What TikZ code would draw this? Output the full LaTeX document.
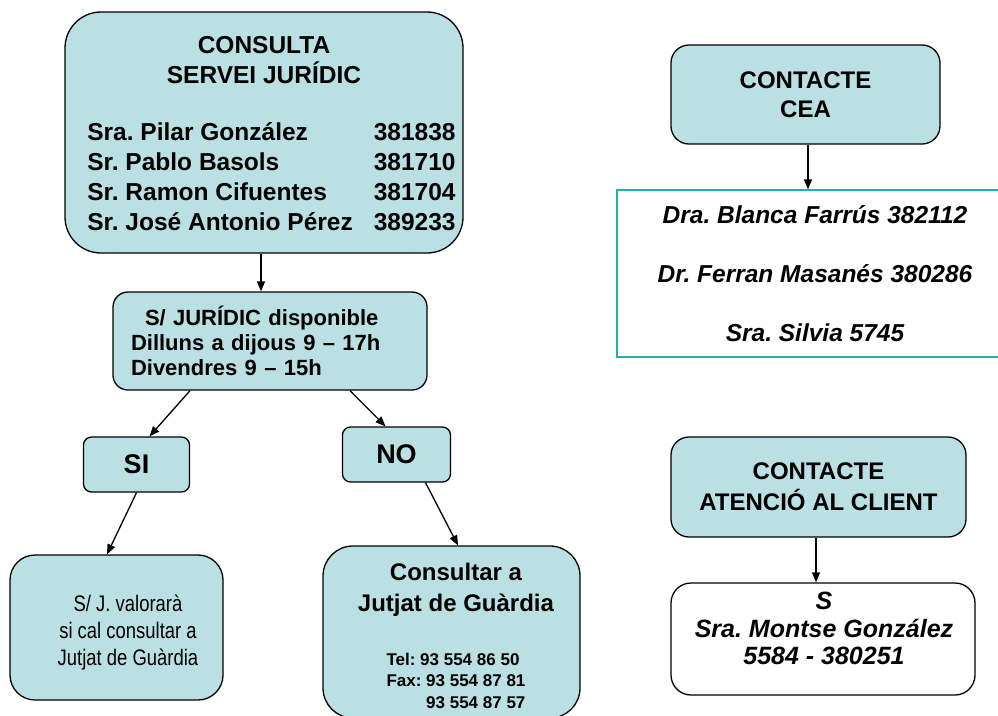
\documentclass[tikz,border=0pt]{standalone}
\usepackage{fontspec}
\setmainfont{Liberation Sans}
\newfontfamily\narrowsans[FakeStretch=0.82]{Liberation Sans}
\usetikzlibrary{arrows.meta, positioning}
\definecolor{boxblue}{RGB}{186,224,227}
\definecolor{ceateal}{RGB}{30,178,170}
\frenchspacing
\tikzset{>={Triangle[length=10pt,width=8pt]}}
\tikzset{
  bluebox/.style={draw=black, line width=1.3pt, fill=boxblue, inner sep=0pt, align=center},
  whitebox/.style={draw=black, line width=1.3pt, fill=white, inner sep=0pt, align=center},
  headtext/.style={font=\bfseries\fontsize{24}{29}\selectfont},
  flow/.style={->, line width=1.3pt},
}

\begin{document}
\begin{tikzpicture}[x=1pt, y=-1pt]
    \useasboundingbox (0,0) rectangle (998,715);
    % servei juridic branch
    \node[bluebox, font=\bfseries\fontsize{24.5}{30}\selectfont, minimum width=398pt, minimum height=241pt, rounded corners=36pt] (consulta) at (264,132.5)
        {\rule{0pt}{28pt}CONSULTA\\SERVEI JURÍDIC\\[27pt]\hspace*{15pt}\begin{tabular}[t]{@{}l@{\hspace{21pt}}r@{}}
        Sra. Pilar González & 381838\\
        Sr. Pablo Basols & 381710\\
        Sr. Ramon Cifuentes & 381704\\
        Sr. José Antonio Pérez & 389233
        \end{tabular}};
    \node[bluebox, font=\bfseries\fontsize{22}{25}\selectfont, align=left, text width=278pt, minimum width=314pt, minimum height=98pt, rounded corners=15pt] (juridic) at (270,341)
        {\hspace{14pt}S/ JURÍDIC disponible\\Dilluns a dijous 9 – 17h\\Divendres 9 – 15h};
    \node[bluebox, font=\bfseries\fontsize{27}{30}\selectfont, minimum width=106pt, minimum height=55pt, rounded corners=8pt] (si) at (136.5,464.5) {SI};
    \node[bluebox, font=\bfseries\fontsize{27}{30}\selectfont, minimum width=108pt, minimum height=55pt, rounded corners=8pt] (no) at (396.5,454.5) {NO};
    \node[bluebox, minimum width=213pt, minimum height=145pt, rounded corners=25pt] (valora) at (116.5,627.5) {};
    \node[font=\narrowsans\fontsize{22.5}{27}\selectfont, align=center, inner sep=0pt] (valoratext) at (128,633)
        {S/ J. valorarà\\si cal consultar a\\Jutjat de Guàrdia};
    \node[bluebox, minimum width=257pt, minimum height=172pt, rounded corners=30pt] (guardia) at (451.5,632) {};
    \node[font=\bfseries\fontsize{24}{31}\selectfont, align=center, inner sep=0pt, anchor=north] (guardiatext) at (456,562.5)
        {Consultar a\\Jutjat de Guàrdia\\[23pt]{\fontsize{17}{21.5}\selectfont\begin{tabular}[t]{@{}l@{}}
        Tel: 93 554 86 50\\
        Fax: 93 554 87 81\\
        \phantom{Fax: }93 554 87 57
        \end{tabular}}};
    % contactes
    \node[bluebox, headtext, minimum width=269pt, minimum height=99pt, rounded corners=18pt] (cea) at (805.5,94.5) {CONTACTE\\CEA};
    \node[draw=ceateal, line width=1.3pt, minimum width=396pt, minimum height=167pt, inner sep=0pt, align=center,
        font=\bfseries\itshape\fontsize{24.5}{59}\selectfont] (ceanames) at (815,273.5)
        {Dra. Blanca Farrús 382112\\Dr. Ferran Masanés 380286\\Sra. Silvia 5745};
    \node[bluebox, font=\bfseries\fontsize{24}{31}\selectfont, minimum width=295pt, minimum height=100pt, rounded corners=18pt] (atencio) at (818.5,487) {CONTACTE\\ATENCIÓ AL CLIENT};
    \node[whitebox, minimum width=304pt, minimum height=112pt, rounded corners=20pt] (montse) at (823,639) {};
    \node[font=\bfseries\itshape\fontsize{25}{27.5}\selectfont, align=center, inner sep=0pt, anchor=north] (montsetext) at (824,592)
        {S\\Sra. Montse González\\5584 - 380251};
    % connectors
    \draw[flow] ([xshift=-3pt]consulta.south) -- ([xshift=-3pt]consulta.south |- juridic.north);
    \draw[flow] ([xshift=-80pt]juridic.south) -- ([xshift=13pt]si.north);
    \draw[flow] ([xshift=80pt]juridic.south) -- ([xshift=-11pt]no.north);
    \draw[flow] (si.south) -- ([xshift=-9.5pt]valora.north);
    \draw[flow] ([xshift=29pt]no.south) -- ([xshift=6.5pt]guardia.north);
    \draw[flow] ([xshift=2.5pt]cea.south) -- ([xshift=2.5pt]cea.south |- ceanames.north);
    \draw[flow] ([xshift=-2.5pt]atencio.south) -- ([xshift=-2.5pt]atencio.south |- montse.north);
\end{tikzpicture}
\end{document}
